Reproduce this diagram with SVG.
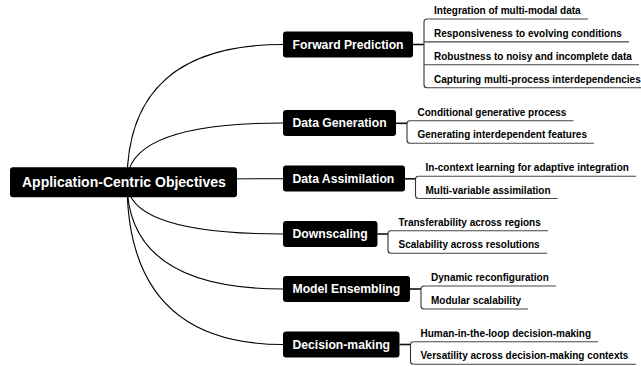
<svg xmlns="http://www.w3.org/2000/svg" width="641" height="366" viewBox="0 0 641 366">
<style>
.curve{fill:none;stroke:#000;stroke-width:1.1}
.stub{fill:none;stroke:#111;stroke-width:1.6}
.br{fill:none;stroke:#333;stroke-width:1.1}
.ul{fill:none;stroke:#444;stroke-width:1.1}
.box{fill:#000}
.rt{font-family:"Liberation Sans",Arial,sans-serif;font-weight:bold;font-size:14px;fill:#fff}
.bt{font-family:"Liberation Sans",Arial,sans-serif;font-weight:bold;font-size:12.2px;fill:#fff}
.lt{font-family:"Liberation Sans",Arial,sans-serif;font-weight:bold;font-size:10px;fill:#000}
</style>
<rect width="641" height="366" fill="#fff"/>
<g id="connectors">
<path class="curve" d="M127,182 Q127,44.5 283,44.5"/>
<path class="curve" d="M127,182 Q127,123 283,123"/>
<path class="curve" d="M127,182 Q127,178.7 283,178.7"/>
<path class="curve" d="M127,182 Q127,234 283,234"/>
<path class="curve" d="M127,182 Q127,289 283,289"/>
<path class="curve" d="M127,182 Q127,344.5 283,344.5"/>
<!-- brackets -->
<path class="stub" d="M413,44.5 H424"/>
<path class="br" d="M427,19 Q424,19 424,22 V84.7 Q424,87.7 427,87.7"/>
<path class="stub" d="M396,123.3 H407"/>
<path class="br" d="M410,120.7 Q407,120.7 407,123.7 V140.3 Q407,143.3 410,143.3"/>
<path class="stub" d="M405,178.8 H415.5"/>
<path class="br" d="M418.5,176.3 Q415.5,176.3 415.5,179.3 V195.5 Q415.5,198.5 418.5,198.5"/>
<path class="stub" d="M377.5,234 H388"/>
<path class="br" d="M391,230.7 Q388,230.7 388,233.7 V250.3 Q388,253.3 391,253.3"/>
<path class="stub" d="M410,289 H421"/>
<path class="br" d="M424,286 Q421,286 421,289 V306 Q421,309 424,309"/>
<path class="stub" d="M399.5,344.5 H410.5"/>
<path class="br" d="M413.5,341.7 Q410.5,341.7 410.5,344.7 V361.3 Q410.5,364.3 413.5,364.3"/>
</g>
<g id="root">
<rect class="box" x="10" y="167.3" width="227" height="30" rx="3"/>
<text class="rt" x="22" y="187.3">Application-Centric Objectives</text>
</g>
<g id="forward-prediction">
<rect class="box" x="283" y="31.5" width="130" height="26" rx="3"/>
<text class="bt" x="292.5" y="48.8">Forward Prediction</text>
</g>
<g id="data-generation">
<rect class="box" x="283" y="110" width="113" height="26" rx="3"/>
<text class="bt" x="292.5" y="127.3">Data Generation</text>
</g>
<g id="data-assimilation">
<rect class="box" x="283" y="165.6" width="122" height="26" rx="3"/>
<text class="bt" x="292.5" y="182.9">Data Assimilation</text>
</g>
<g id="downscaling">
<rect class="box" x="283" y="221" width="94.5" height="26" rx="3"/>
<text class="bt" x="292.5" y="238.3">Downscaling</text>
</g>
<g id="model-ensembling">
<rect class="box" x="283" y="276" width="127" height="26" rx="3"/>
<text class="bt" x="292.5" y="293.3">Model Ensembling</text>
</g>
<g id="decision-making">
<rect class="box" x="283" y="331.5" width="116.5" height="26" rx="3"/>
<text class="bt" x="292.5" y="348.8">Decision-making</text>
</g>
<g id="fp-1"><path class="ul" d="M427,19 H588"/><text class="lt" x="434" y="14">Integration of multi-modal data</text></g>
<g id="fp-2"><path class="ul" d="M424,41.9 H629"/><text class="lt" x="434" y="36.9">Responsiveness to evolving conditions</text></g>
<g id="fp-3"><path class="ul" d="M424,64.8 H639"/><text class="lt" x="434" y="59.8">Robustness to noisy and incomplete data</text></g>
<g id="fp-4"><path class="ul" d="M427,87.7 H648"/><text class="lt" x="434" y="82.7">Capturing multi-process interdependencies</text></g>
<g id="dg-1"><path class="ul" d="M410,120.7 H573.5"/><text class="lt" x="417.5" y="115.7">Conditional generative process</text></g>
<g id="dg-2"><path class="ul" d="M410,143.3 H594"/><text class="lt" x="417.5" y="138.3">Generating interdependent features</text></g>
<g id="da-1"><path class="ul" d="M418.5,176.3 H636"/><text class="lt" x="425.5" y="171.3">In-context learning for adaptive integration</text></g>
<g id="da-2"><path class="ul" d="M418.5,198.5 H557.5"/><text class="lt" x="425.5" y="193.5">Multi-variable assimilation</text></g>
<g id="ds-1"><path class="ul" d="M391,230.7 H548"/><text class="lt" x="398.5" y="225.7">Transferability across regions</text></g>
<g id="ds-2"><path class="ul" d="M391,253.3 H547"/><text class="lt" x="398.5" y="248.3">Scalability across resolutions</text></g>
<g id="me-1"><path class="ul" d="M424,286 H556"/><text class="lt" x="431" y="281">Dynamic reconfiguration</text></g>
<g id="me-2"><path class="ul" d="M424,309 H528"/><text class="lt" x="431" y="304">Modular scalability</text></g>
<g id="dm-1"><path class="ul" d="M413.5,341.7 H598"/><text class="lt" x="420.5" y="336.7">Human-in-the-loop decision-making</text></g>
<g id="dm-2"><path class="ul" d="M413.5,364.3 H636"/><text class="lt" x="420.5" y="359.3">Versatility across decision-making contexts</text></g>
</svg>
